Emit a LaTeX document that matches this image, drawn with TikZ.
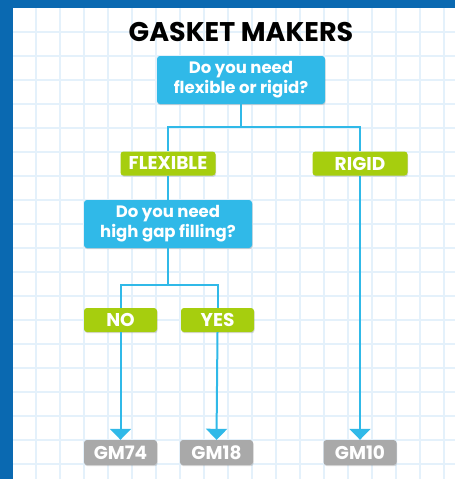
\documentclass[tikz,border=0pt]{standalone}
\usepackage{fontspec}
\setmainfont{Poppins}
\usepackage{xcolor}
\usetikzlibrary{arrows.meta,shadows}

\definecolor{askblue}{HTML}{30B9E8}
\definecolor{pickgreen}{HTML}{A6CE0E}
\definecolor{prodgray}{HTML}{A9A9A9}
\definecolor{frameblue}{HTML}{0A69B1}
\definecolor{gridblue}{HTML}{E4F1FB}

\tikzset{
  boxshade/.style={drop shadow={opacity=0.3,shadow xshift=0.6pt,shadow yshift=-1.2pt}},
  askbox/.style={boxshade,fill=askblue,rounded corners=3pt,text=white,align=center,
    minimum width=168pt,minimum height=48pt,inner sep=0pt,
    font=\fontsize{16.5}{20}\selectfont\bfseries},
  pickbox/.style={boxshade,fill=pickgreen,rounded corners=3pt,text=white,
    minimum height=24pt,inner sep=0pt,font=\fontsize{18.5}{20}\selectfont\bfseries},
  prodbox/.style={boxshade,fill=prodgray,rounded corners=3pt,text=white,
    minimum width=73pt,minimum height=25pt,inner sep=0pt,
    font=\fontsize{18.5}{20}\selectfont\bfseries},
  link/.style={askblue,line width=2pt},
  linkto/.style={link,-{Triangle[width=21pt,length=11pt]}},
}

\begin{document}
\begin{tikzpicture}[x=1pt,y=-1pt]
  \useasboundingbox (0,0) rectangle (455,479);
  % paper
  \fill[white] (0,0) rectangle (455,479);
  \foreach \gx in {36,60,...,444}
    \draw[gridblue,line width=1.3pt] (\gx,0) -- (\gx,479);
  \foreach \gy in {32,56,...,464}
    \draw[gridblue,line width=1.3pt] (0,\gy) -- (455,\gy);
  \fill[frameblue] (0,0) rectangle (455,8);
  \fill[frameblue] (0,0) rectangle (13,479);

  \node at (241,32) (title) {\fontsize{27}{30}\selectfont\bfseries GASKET MAKERS};

  \node[askbox] at (241,80) (askflex) {Do you need\\flexible or rigid?};
  \node[pickbox,minimum width=95pt] at (168,163.5) (flex) {FLEXIBLE};
  \node[pickbox,minimum width=95pt] at (360,163.5) (rigid) {RIGID};
  \node[askbox] at (168,224) (askgap) {Do you need\\high gap filling?};
  \node[pickbox,minimum width=73pt] at (120.5,320) (no) {NO};
  \node[pickbox,minimum width=73pt] at (217.5,320) (yes) {YES};
  \node[prodbox] at (120.5,452.5) (gm74) {GM74};
  \node[prodbox] at (216.5,452.5) (gm18) {GM18};
  \node[prodbox] at (360,452.5) (gm10) {GM10};

  \coordinate (split1) at (241,127);
  \coordinate (split2) at (168,285);

  % connectors
  \draw[link] (askflex.south) -- (split1) -| (flex.north);
  \draw[link] (split1) -| (rigid.north);
  \draw[link] (flex.south) -- (askgap.north);
  \draw[link] (askgap.south) -- (split2) -| (no.north);
  \draw[link] (split2) -| (yes.north);
  \draw[linkto] (no.south) -- (gm74.north);
  \draw[linkto] (yes.south) -- (gm18.north);
  \draw[linkto] (rigid.south) -- (gm10.north);
\end{tikzpicture}
\end{document}
